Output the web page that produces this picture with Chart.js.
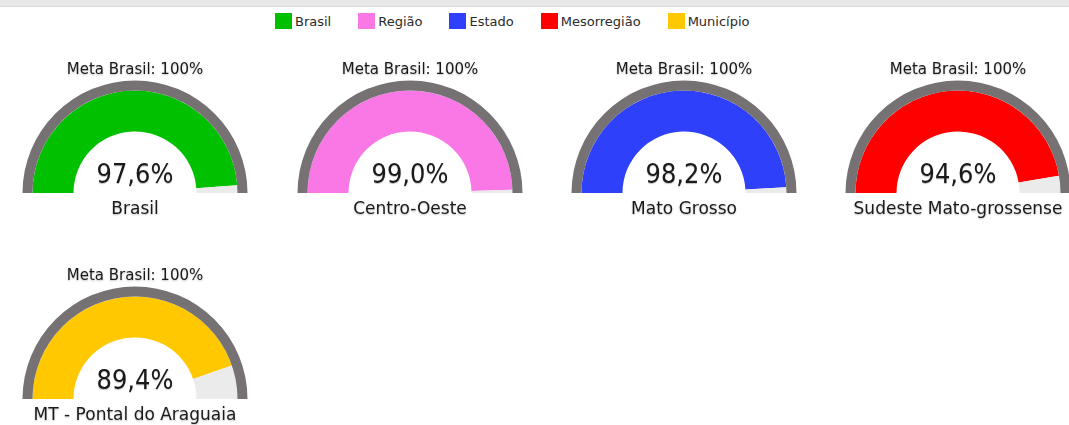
<!DOCTYPE html>
<html lang="pt-BR">
<head>
<meta charset="utf-8">
<script src="https://cdn.jsdelivr.net/npm/chart.js@4.4.1/dist/chart.umd.min.js"></script>
<style>
  html, body { margin: 0; padding: 0; background: #fff; }
  body { width: 1069px; height: 425px; position: relative; overflow: hidden; font-family: "DejaVu Sans", sans-serif; }
  #topbar { position: absolute; left: 0; top: 0; width: 100%; height: 6px; background: #e8e8e8; border-bottom: 1px solid #dadada; }
  #legend { position: absolute; left: 275px; top: 13px; display: flex; gap: 27px; font-size: 13px; color: #2a2a2a; }
  .item { display: flex; align-items: center; height: 16px; }
  .box { width: 17px; height: 16px; margin-right: 3px; }
  canvas.gauge { position: absolute; }
</style>
</head>
<body>
<div id="topbar"></div>
<div id="legend"></div>
<script>
// legenda
const legendLabels = ['Brasil', 'Região', 'Estado', 'Mesorregião', 'Município'];
const legendColors = ['#00c000', '#fa78e6', '#2f40fa', '#ff0000', '#ffc800'];

// dados dos medidores
const regions = ['Brasil', 'Centro-Oeste', 'Mato Grosso', 'Sudeste Mato-grossense', 'MT - Pontal do Araguaia'];
const values = [97.6, 99.0, 98.2, 94.6, 89.4];
const metaText = 'Meta Brasil: 100%';
const metaValue = 100;

const ringColor = '#767274';
const restColor = '#ebebeb';

// posição de cada medidor na página (centro x, topo do canvas)
const centersX = [135, 409.5, 684, 958, 135];
const rowTops = [55, 55, 55, 55, 261];

const legendEl = document.getElementById('legend');
legendLabels.forEach((lbl, i) => {
    const item = document.createElement('div');
    item.className = 'item';
    item.innerHTML = `<span class="box" style="background:${legendColors[i]}"></span><span>${lbl}</span>`;
    legendEl.appendChild(item);
});

const fmt = (v) => v.toFixed(1).replace('.', ',') + '%';

const gaugeText = {
    id: 'gaugeText',
    afterDraw(chart, args, opts) {
        const arc = chart.getDatasetMeta(0).data[0];
        const cx = arc.x;
        const cy = arc.y;
        const ctx = chart.ctx;
        ctx.save();
        ctx.textAlign = 'center';
        ctx.textBaseline = 'alphabetic';
        ctx.fillStyle = '#1a1a1a';
        ctx.shadowColor = 'rgba(0,0,0,0.25)';
        ctx.shadowBlur = 2;
        ctx.shadowOffsetY = 1;
        ctx.font = '15px "DejaVu Sans"';
        ctx.fillText(opts.title, cx, cy - 119);
        ctx.font = '17px "DejaVu Sans"';
        ctx.fillText(opts.label, cx, cy + 21);
        ctx.shadowBlur = 1;
        ctx.translate(cx, cy - 10);
        ctx.scale(0.93, 1);
        ctx.font = '26px "DejaVu Sans"';
        ctx.fillText(opts.value, 0, 0);
        ctx.restore();
    }
};

values.forEach((v, i) => {
    const canvas = document.createElement('canvas');
    canvas.className = 'gauge';
    canvas.width = 274;
    canvas.height = 165;
    canvas.style.left = (centersX[i] - 137) + 'px';
    canvas.style.top = rowTops[i] + 'px';
    document.body.appendChild(canvas);

    new Chart(canvas, {
        type: 'doughnut',
        data: {
            labels: [regions[i], 'Restante'],
            datasets: [
                { data: [metaValue], backgroundColor: [ringColor], weight: 10, borderWidth: 0 },
                { data: [v, metaValue - v], backgroundColor: [legendColors[i], restColor], weight: 41, borderWidth: 0 }
            ]
        },
        options: {
            responsive: false,
            animation: false,
            events: [],
            rotation: -90,
            circumference: 180,
            cutout: '54.67%',
            radius: 112.5,
            layout: { padding: { top: 25.5, bottom: 27, left: 0, right: 0 } },
            plugins: {
                legend: { display: false },
                tooltip: { enabled: false },
                gaugeText: { title: metaText, label: regions[i], value: fmt(v) }
            }
        },
        plugins: [gaugeText]
    });
});
</script>
</body>
</html>
